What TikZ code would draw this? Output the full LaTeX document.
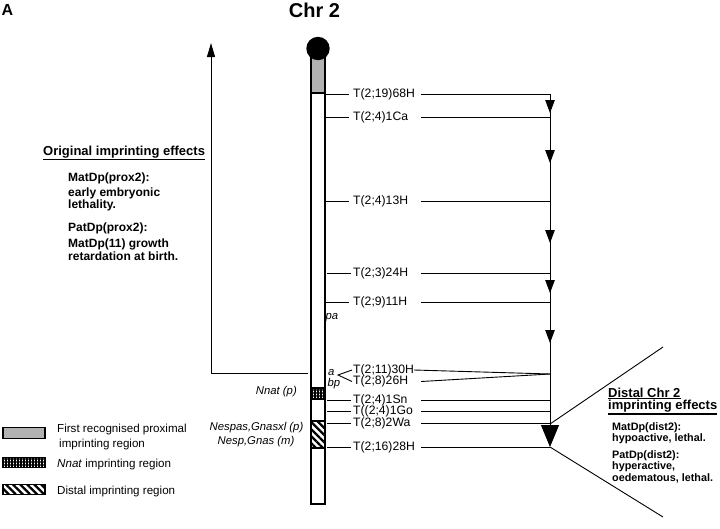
\documentclass[tikz,border=0pt]{standalone}
\usepackage{fontspec}
\setmainfont{Liberation Sans}
\usetikzlibrary{arrows.meta,patterns.meta}
\definecolor{chrgray}{gray}{0.70}
\begin{document}
\begin{tikzpicture}[x=1pt,y=-1pt,
  conn/.style={line width=0.9pt},
  dtip/.style={-{Triangle[length=13pt,width=9.5pt]}},
  tlab/.style={font=\fontsize{12.2}{14}\selectfont,inner sep=0pt,anchor=west},
  itl/.style={font=\itshape\fontsize{11.3}{14}\selectfont,inner sep=0pt},
  bodyl/.style={font=\bfseries\fontsize{12}{14}\selectfont,inner sep=0pt,anchor=base west},
  bodyr/.style={font=\bfseries\fontsize{10.8}{13}\selectfont,inner sep=0pt,anchor=base west},
  head/.style={font=\bfseries\fontsize{13}{15}\selectfont,inner sep=0pt,anchor=base west},
  leg/.style={font=\fontsize{11.6}{14}\selectfont,inner sep=0pt,anchor=base west},
  lbox/.style={draw,line width=1.1pt,minimum width=42pt,minimum height=10.5pt,inner sep=0pt},
  uline/.style={line width=1.1pt},
  nnatpat/.style={pattern={Hatch[distance=3pt,line width=1.1pt]}},
  distpat/.style={pattern={Lines[angle=-45,distance=5pt,line width=2.3pt]}}
]
\useasboundingbox (0,0) rectangle (720,528);

% titles
\node[font=\bfseries\fontsize{16}{18}\selectfont,inner sep=0pt,anchor=base west] (pA) at (1.5,15.5) {A};
\node[font=\bfseries\fontsize{20}{22}\selectfont,inner sep=0pt,anchor=base] (chrt) at (314.5,17.5) {Chr 2};

% chromosome
\filldraw[fill=chrgray,line width=1.3pt] (311,56) rectangle (325,93);
\draw[line width=1.3pt] (311,93) rectangle (325,504);
\filldraw[nnatpat,line width=1.2pt] (311,388) rectangle (325,399);
\filldraw[distpat,line width=1.2pt] (311,421) rectangle (325,448);
\node[circle,fill=black,minimum size=23.4pt,inner sep=0pt] (cen) at (318,48.5) {};

% reference coordinates
\coordinate (bar) at (325,0);
\coordinate (le) at (349,0);
\coordinate (rs) at (421,0);
\coordinate (v) at (550,0);

% translocation labels
\node[tlab] (t1) at (353,94) {T(2;19)68H};
\node[tlab] (t2) at (353,117) {T(2;4)1Ca};
\node[tlab] (t3) at (353,201) {T(2;4)13H};
\node[tlab] (t4) at (353,273) {T(2;3)24H};
\node[tlab] (t5) at (353,302) {T(2;9)11H};
\node[tlab] (t6) at (353,370) {T(2;11)30H};
\node[tlab] (t7) at (353,381.5) {T(2;8)26H};
\node[tlab] (t8) at (353,400) {T(2;4)1Sn};
\node[tlab] (t9) at (353,411) {T((2;4)1Go};
\node[tlab] (t10) at (353,423) {T(2;8)2Wa};
\node[tlab] (t11) at (353,447) {T(2;16)28H};

% left ticks
\foreach \t in {t1,t2,t3,t5} \draw[conn] (\t -| bar) -- (\t -| le);
\foreach \t in {t4,t8,t9,t10,t11} \draw[conn] ([xshift=2pt]\t -| bar) -- ([xshift=2pt]\t -| le);
% right lines
\foreach \t in {t1,t2,t3,t4,t5,t8,t9,t10,t11} \draw[conn] (\t -| rs) -- (\t -| v);

% small italic labels
\node[itl,anchor=west] (pa) at (325.5,318) {pa};
\node[itl,anchor=west] (la) at (328,372.5) {a};
\node[itl,anchor=west] (lbp) at (327.5,383.5) {bp};
\coordinate (ab) at (338,375);
\draw[conn] ([xshift=-1pt]t6.west) -- (ab) -- ([xshift=-1pt]t7.west);
\coordinate (conv) at (550,374);
\draw[conn] (t6.east) -- (conv);
\draw[conn] (t7 -| rs) -- (conv);

% vertical line with arrowheads
\coordinate (vtop) at (550,94);
\coordinate (vbot) at (550,447);
\coordinate (vwa) at (550,424);
\draw[conn] (vtop) -- (vwa);
\foreach \y in {113,163,243,293,343}
  \draw[conn,dtip] (550,\y-12) -- (550,\y);
\draw[conn,-{Triangle[length=22pt,width=18pt]}] (vwa) -- (vbot);

% diagonals to distal box
\coordinate (dup) at (663,347);
\coordinate (ddn) at (663,517);
\draw[conn] (vwa) -- (dup);
\draw[conn] (vbot) -- (ddn);

% left arrow
\coordinate (lb) at (308,373);
\coordinate (lc) at (211,373);
\coordinate (lt) at (211,43);
\draw[conn,-{Triangle[length=14pt,width=8pt]}] (lb) -- (lc) -- (lt);

% gene labels
\node[itl,anchor=east] (nnat) at (297,392) {Nnat (p)};
\node[itl] (nespas) at (256.5,428) {Nespas,Gnasxl (p)};
\node[itl] (nesp) at (256,442) {Nesp,Gnas (m)};

% original imprinting effects
\node[head] (oh) at (43,155) {Original imprinting effects};
\draw[uline] ([yshift=-1.5pt]oh.south west) -- ([yshift=-1.5pt]oh.south east);
\node[bodyl] (o1) at (68,181) {MatDp(prox2):};
\node[bodyl] (o2) at (68,196) {early embryonic};
\node[bodyl] (o3) at (68,208) {lethality.};
\node[bodyl] (o4) at (68,231) {PatDp(prox2):};
\node[bodyl] (o5) at (68,247) {MatDp(11) growth};
\node[bodyl] (o6) at (68,260) {retardation at birth.};

% distal imprinting effects
\node[head] (dh1) at (608,397) {Distal Chr 2};
\draw[uline] ([yshift=-1.5pt]dh1.south west) -- ([yshift=-1.5pt]dh1.south east);
\node[head] (dh2) at (608,409.5) {imprinting effects};
\draw[uline] ([yshift=-1.5pt]dh2.south west) -- ([yshift=-1.5pt]dh2.south east);
\node[bodyr] (d1) at (612,430) {MatDp(dist2):};
\node[bodyr] (d2) at (612,441.5) {hypoactive, lethal.};
\node[bodyr] (d3) at (612,458.5) {PatDp(dist2):};
\node[bodyr] (d4) at (612,469.5) {hyperactive,};
\node[bodyr] (d5) at (612,481) {oedematous, lethal.};

% legend
\node[lbox,fill=chrgray] (lg1) at (24,433) {};
\node[lbox,nnatpat] (lg2) at (24,462.5) {};
\node[lbox,distpat] (lg3) at (24,489.5) {};
\node[leg] (lt1) at (57,432) {First recognised proximal};
\node[leg] (lt1b) at (59,447) {imprinting region};
\node[leg] (lt2) at (57,467) {\textit{Nnat} imprinting region};
\node[leg] (lt3) at (57,494) {Distal imprinting region};
\end{tikzpicture}
\end{document}
